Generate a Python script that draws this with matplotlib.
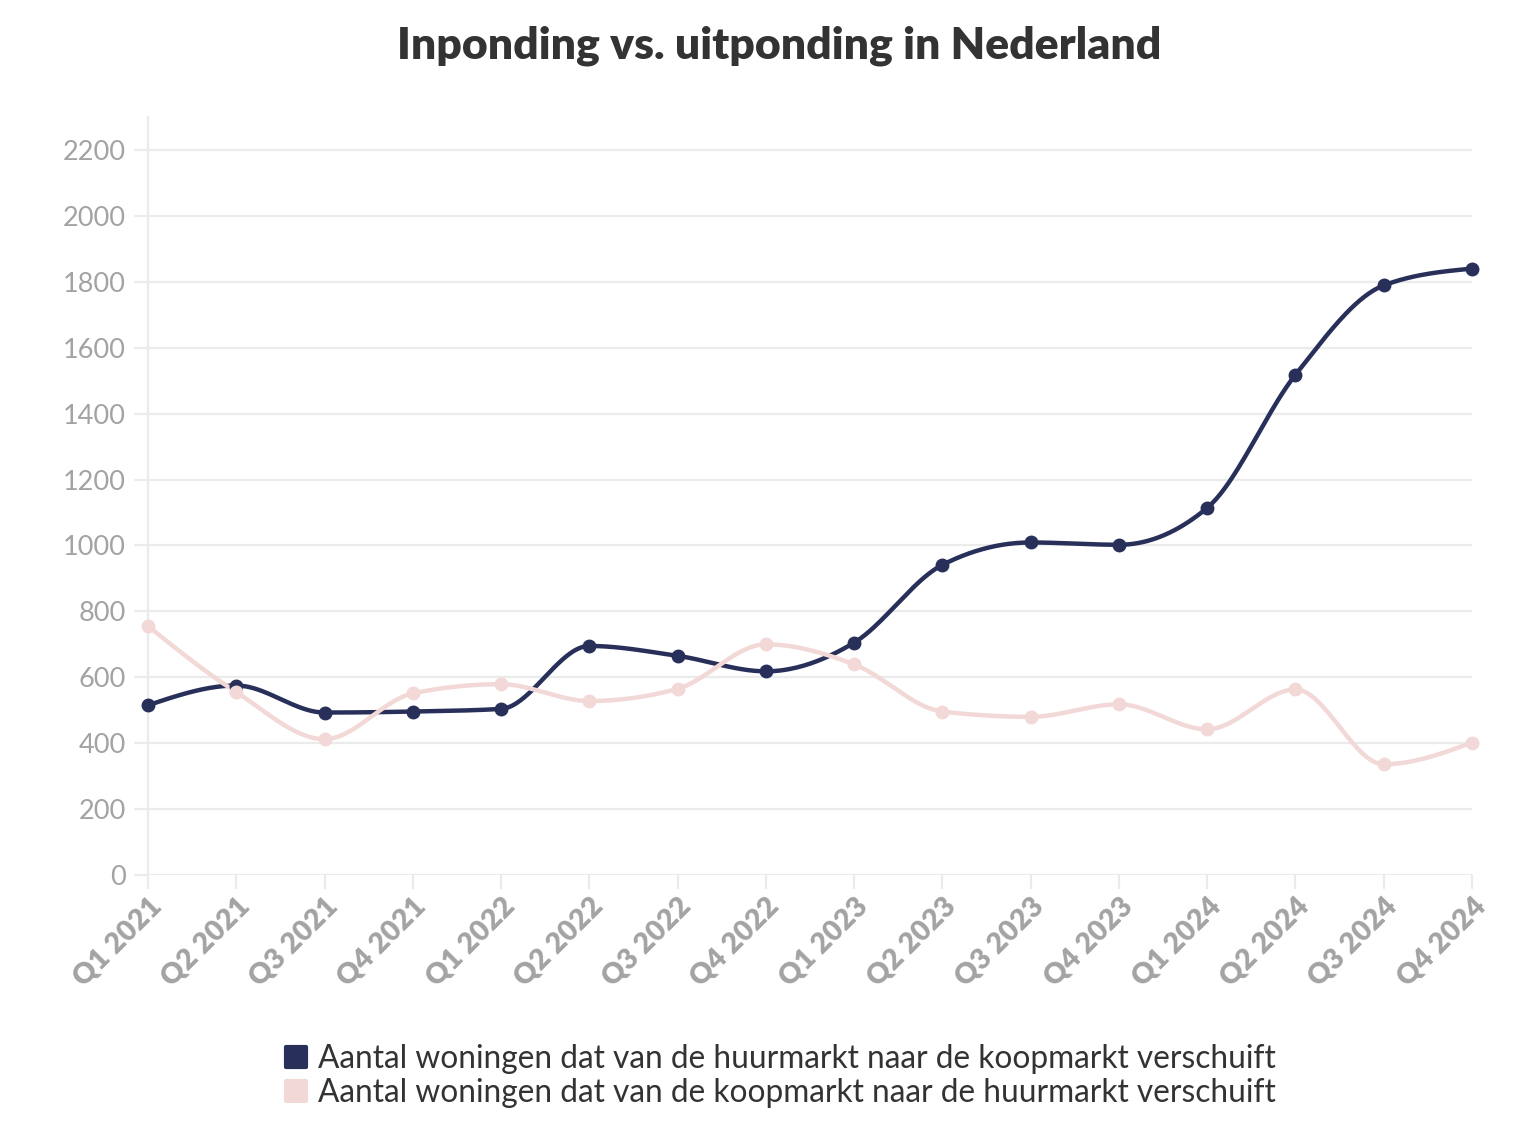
import numpy as np
import matplotlib
matplotlib.use("Agg")
import matplotlib.pyplot as plt
from matplotlib.lines import Line2D
from matplotlib.markers import MarkerStyle

# ---------------- data ----------------
quarters = ["Q1 2021", "Q2 2021", "Q3 2021", "Q4 2021",
            "Q1 2022", "Q2 2022", "Q3 2022", "Q4 2022",
            "Q1 2023", "Q2 2023", "Q3 2023", "Q4 2023",
            "Q1 2024", "Q2 2024", "Q3 2024", "Q4 2024"]
huur_naar_koop = [515, 575, 493, 496, 504, 695, 665, 618,
                  705, 941, 1009, 1002, 1114, 1518, 1789, 1840]
koop_naar_huur = [755, 555, 412, 551, 579, 528, 565, 700,
                  639, 496, 480, 518, 442, 563, 336, 402]
series_labels = ["Aantal woningen dat van de huurmarkt naar de koopmarkt verschuift",
                 "Aantal woningen dat van de koopmarkt naar de huurmarkt verschuift"]
y_ticks = list(range(0, 2201, 200))

DARK = "#28305a"
PINK = "#f3d8d8"
GRID = "#ebebeb"
TICKTXT = "#a3a3a3"
FONT = "Lato"


def monotone_x(x, y, n=40):
    """d3 curveMonotoneX style smooth path through the points (for drawing)."""
    x = np.asarray(x, float)
    y = np.asarray(y, float)
    h = np.diff(x)
    s = np.diff(y) / h
    m = len(x)
    t = np.zeros(m)
    sgn = lambda v: -1.0 if v < 0 else 1.0
    for i in range(1, m - 1):
        s0, s1, h0, h1 = s[i - 1], s[i], h[i - 1], h[i]
        p = (s0 * h1 + s1 * h0) / (h0 + h1)
        t[i] = (sgn(s0) + sgn(s1)) * min(abs(s0), abs(s1), 0.5 * abs(p))
    t[0] = (3 * s[0] - t[1]) / 2
    t[-1] = (3 * s[-1] - t[-2]) / 2
    xs, ys = [], []
    for i in range(m - 1):
        u = np.linspace(0, 1, n, endpoint=(i == m - 2))
        x0, x1, y0, y1 = x[i], x[i + 1], y[i], y[i + 1]
        dx = x1 - x0
        P0 = np.array([x0, y0])
        P1 = np.array([x0 + dx / 3, y0 + t[i] * dx / 3])
        P2 = np.array([x1 - dx / 3, y1 - t[i + 1] * dx / 3])
        P3 = np.array([x1, y1])
        B = ((1 - u) ** 3)[:, None] * P0 + (3 * (1 - u) ** 2 * u)[:, None] * P1 \
            + (3 * (1 - u) * u ** 2)[:, None] * P2 + (u ** 3)[:, None] * P3
        xs.extend(B[:, 0])
        ys.extend(B[:, 1])
    return np.array(xs), np.array(ys)


fig = plt.figure(figsize=(15.2, 11.22), dpi=100)
ax = fig.add_axes([148 / 1520, 1 - 875 / 1122, (1472 - 148) / 1520, (875 - 117) / 1122])

xpos = np.arange(len(quarters))
for vals, col in [(huur_naar_koop, DARK), (koop_naar_huur, PINK)]:
    sx, sy = monotone_x(xpos, vals)
    ax.plot(sx, sy, color=col, lw=3.2, solid_capstyle="round", clip_on=False, zorder=3)
    ax.plot(xpos, vals, "o", color=col, ms=9, clip_on=False, zorder=4)

ax.set_xlim(0, len(quarters) - 1)
ax.set_ylim(0, 2300)
ax.set_yticks(y_ticks)
ax.set_yticklabels([str(v) for v in y_ticks])
ax.set_xticks(xpos)
ax.set_xticklabels(quarters)

ax.grid(axis="y", color=GRID, lw=1.6, zorder=0)
ax.set_axisbelow(True)
for sp in ["top", "right", "bottom"]:
    ax.spines[sp].set_visible(False)
ax.spines["left"].set_color(GRID)
ax.spines["left"].set_linewidth(1.6)

ax.tick_params(axis="y", length=10, width=1.6, color=GRID, pad=6,
               labelsize=19.5, labelcolor=TICKTXT)
ax.tick_params(axis="x", length=10, width=1.6, color=GRID, pad=3,
               labelsize=20.5, labelcolor=TICKTXT)
for lab in ax.get_yticklabels():
    lab.set_fontfamily(FONT)
for lab in ax.get_xticklabels():
    lab.set_fontfamily(FONT)
    lab.set_fontweight("heavy")
    lab.set_rotation(45)
    lab.set_ha("right")
    lab.set_va("top")
    lab.set_rotation_mode("anchor")

fig.text(779 / 1520, 1 - 46 / 1122, "Inponding vs. uitponding in Nederland",
         ha="center", va="center", fontsize=32, fontweight="heavy",
         color="#333333", family=FONT)

handles = [Line2D([], [], ls="none", marker=MarkerStyle("s", joinstyle="round"),
                  ms=15, color=c, mec=c, mew=3)
           for c in (DARK, PINK)]
fig.legend(handles, series_labels, loc="center", bbox_to_anchor=(780 / 1520, 1 - 1076 / 1122),
           frameon=False, ncol=1, handlelength=0.75, handletextpad=0.3,
           labelspacing=0.12, prop={"family": FONT, "size": 22.8},
           labelcolor="#333333", borderpad=0)

fig.savefig("out.png", dpi=100, facecolor="white")
